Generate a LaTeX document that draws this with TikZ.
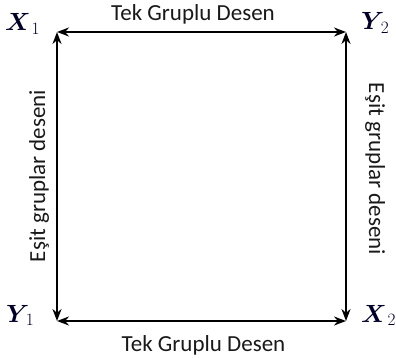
\documentclass[tikz,border=0pt]{standalone}
\usepackage{fontspec}
\usepackage{amsmath,bm}
\setmainfont{Carlito}
\usetikzlibrary{arrows.meta}
\begin{document}
\begin{tikzpicture}[x=1pt,y=-1pt,
  side/.style={line width=2.1pt,{Stealth[length=12pt,width=9pt]}-{Stealth[length=12pt,width=9pt]}},
  caption/.style={font=\fontsize{23}{25}\selectfont,text=black!90,inner sep=0pt,anchor=base},
  corner/.style={font=\fontsize{27}{29}\selectfont,text=black!85!blue,inner sep=0pt,anchor=base west}]
  \useasboundingbox (0,0) rectangle (396,358);
  % square corners
  \coordinate (tl) at (57,32);
  \coordinate (tr) at (346,32);
  \coordinate (bl) at (57,321);
  \coordinate (br) at (346,321);
  % sides
  \draw[side] (tl) -- (tr);
  \draw[side] (bl) -- (br);
  \draw[side] (tl) -- (bl);
  \draw[side] (tr) -- (br);
  % corner labels
  \node[corner] (x1) at (5,31) {$\bm{X}_{\,1}$};
  \node[corner] (y2) at (361,30) {$\bm{Y}_{\,2}$};
  \node[corner] (y1) at (6,322) {$\bm{Y}_{\,1}$};
  \node[corner] (x2) at (361,322) {$\bm{X}_{\,2}$};
  % side captions
  \node[caption] (top) at (193,20.7) {Tek Gruplu Desen};
  \node[caption] (bot) at (203.5,351) {Tek Gruplu Desen};
  \node[caption,rotate=90] (lft) at (45,176) {Eşit gruplar deseni};
  \node[caption,rotate=-90] (rgt) at (369,169) {Eşit gruplar deseni};
\end{tikzpicture}
\end{document}
